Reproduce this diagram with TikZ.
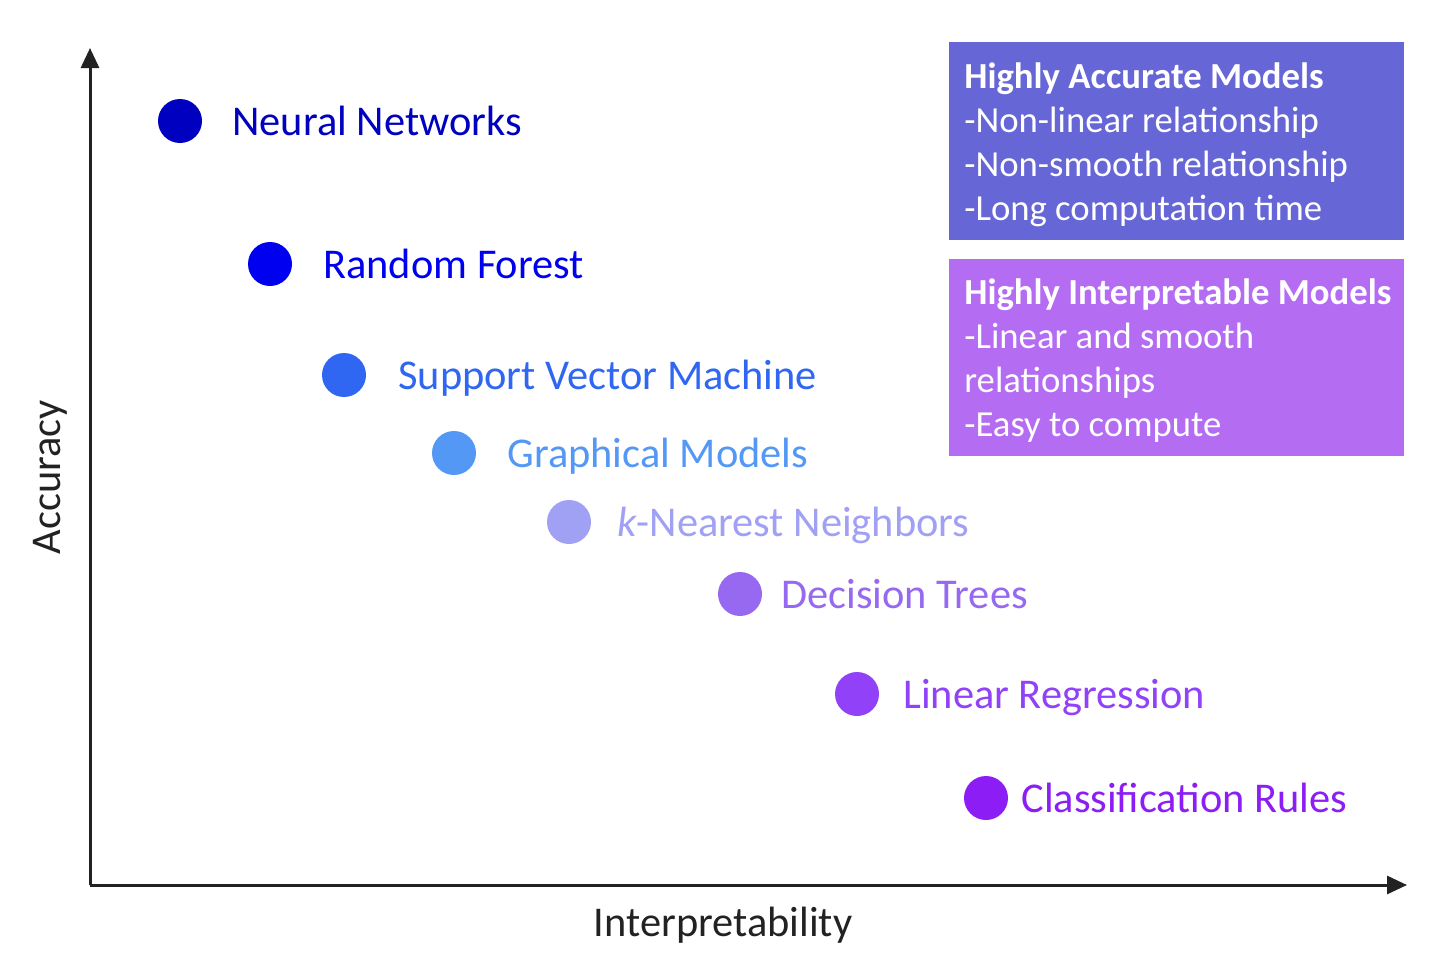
\documentclass[tikz,border=0pt]{standalone}
\usepackage{fontspec}
\setmainfont{Carlito}
\usetikzlibrary{arrows.meta}
\definecolor{cNN}{HTML}{0000C0}
\definecolor{cRF}{HTML}{0000F0}
\definecolor{cSVM}{HTML}{2F66F2}
\definecolor{cGM}{HTML}{5498F5}
\definecolor{cKNN}{HTML}{A0A0F5}
\definecolor{cDT}{HTML}{9669F0}
\definecolor{cLR}{HTML}{9141F8}
\definecolor{cCR}{HTML}{8C1EF5}
\definecolor{boxA}{HTML}{6666D6}
\definecolor{boxB}{HTML}{B46CF2}
\definecolor{axiscol}{HTML}{222222}
\begin{document}
\begin{tikzpicture}[x=0.5pt,y=-0.5pt,
  dotmark/.style={circle,inner sep=0pt,minimum size=22pt},
  lbl/.style={anchor=base west,inner sep=0pt,font={\fontsize{21.2}{25}\selectfont}},
  axlbl/.style={inner sep=0pt,text=axiscol,font={\fontsize{21.2}{25}\selectfont}},
  boxtext/.style={anchor=west,inner sep=0pt,align=left,text=white,font={\fontsize{18.35}{22}\selectfont}},
  axisline/.style={draw=axiscol,line width=1.5pt,-{Triangle[length=10pt,width=9pt]}}]
\useasboundingbox[fill=white] (0,0) rectangle (1444,958);
% axes
\coordinate (O) at (90,885);
\coordinate (ytip) at (90,48);
\coordinate (xtip) at (1407,885);
\draw[axisline] (O) -- (ytip);
\draw[axisline] (O) -- (xtip);
\node[axlbl] (xl) at (723,925) {Interpretability};
\node[axlbl,rotate=90] (yl) at (50,477) {Accuracy};
% dots
\node[dotmark,fill=cNN] (nn) at (180,121) {};
\node[dotmark,fill=cRF] (rf) at (270,264) {};
\node[dotmark,fill=cSVM] (svm) at (344,375) {};
\node[dotmark,fill=cGM] (gm) at (454,453) {};
\node[dotmark,fill=cKNN] (knn) at (569,522) {};
\node[dotmark,fill=cDT] (dt) at (740,594) {};
\node[dotmark,fill=cLR] (lr) at (857,694) {};
\node[dotmark,fill=cCR] (cr) at (986,798) {};
% labels
\node[lbl,text=cNN] (tnn) at (232,135) {Neural Networks};
\node[lbl,text=cRF] (trf) at (323,278) {Random Forest};
\node[lbl,text=cSVM] (tsvm) at (398,389) {Support Vector Machine};
\node[lbl,text=cGM] (tgm) at (507,467) {Graphical Models};
\node[lbl,text=cKNN] (tknn) at (617,536) {{\itshape k}-Nearest Neighbors};
\node[lbl,text=cDT] (tdt) at (781,608) {Decision Trees};
\node[lbl,text=cLR] (tlr) at (903,708) {Linear Regression};
\node[lbl,text=cCR] (tcr) at (1021,812) {Classification Rules};
% boxes
\fill[boxA] (949,42) rectangle (1404,240);
\fill[boxB] (949,259) rectangle (1404,456);
\node[boxtext] (ta) at (964,145) {\textbf{Highly Accurate Models}\\-Non-linear relationship\\-Non-smooth relationship\\-Long computation time};
\node[boxtext] (tb) at (964,361) {\textbf{Highly Interpretable Models}\\-Linear and smooth\\relationships\\-Easy to compute};
\end{tikzpicture}
\end{document}
